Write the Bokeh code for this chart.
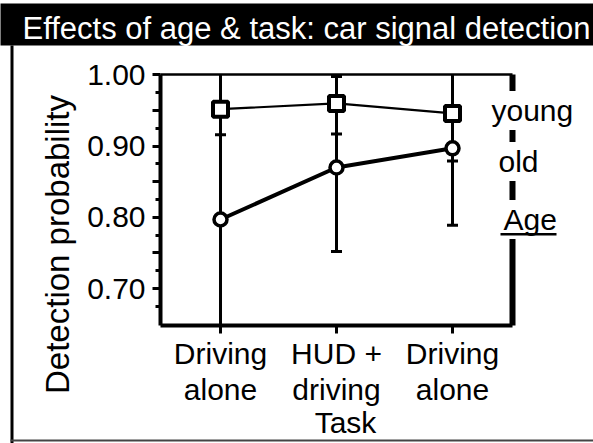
from math import pi
from bokeh.plotting import figure
from bokeh.models import Range1d, FixedTicker, LinearAxis, Label, BoxAnnotation
from bokeh.embed import file_html
from bokeh.resources import INLINE

# ---------------- data ----------------
title_text = "Effects of age & task: car signal detection"
y_label = "Detection probability"
x_label = "Task"
task_pos = [1, 2, 3]
task_labels = ["Driving\nalone", "HUD +\ndriving", "Driving\nalone"]
y_ticks = [0.70, 0.75, 0.80, 0.85, 0.90, 0.95, 1.00]
y_tick_labels = ["0.70", "", "0.80", "", "0.90", "", "1.00"]
y_minor = [0.675, 0.725, 0.775, 0.825, 0.875, 0.925, 0.975]

young = [0.952, 0.960, 0.946]
young_lower = [0.916, 0.917, 0.879]
young_upper = [1.00, 0.998, 1.00]

old = [0.797, 0.870, 0.897]
old_lower = [0.648, 0.752, 0.789]
old_upper = [0.957, 0.988, 1.00]

legend_labels = ["young", "old"]
legend_title = "Age"

# plotted region (axis extents) and full-canvas ranges
x_lo, x_hi = 0.483, 3.517
y_lo, y_hi = 0.648, 1.0

FONT = "Liberation Sans"
W, H = 593, 443

p = figure(width=W, height=H, output_backend="svg", toolbar_location=None,
           x_range=Range1d(-0.8966, 4.2155), y_range=Range1d(0.4824, 1.1046),
           x_axis_location=None, y_axis_location=None,
           min_border=0, min_border_left=0, min_border_right=0,
           min_border_top=0, min_border_bottom=0)
p.outline_line_color = None
p.grid.visible = False
p.background_fill_color = "white"
p.border_fill_color = "white"


def blank_axis(loc, bounds, width):
    return LinearAxis(fixed_location=loc, bounds=bounds, ticker=FixedTicker(ticks=[]),
                      axis_line_width=width, axis_line_color="black",
                      major_tick_line_color=None, minor_tick_line_color=None,
                      major_label_text_font_size="0px")


# left axis
ya = LinearAxis(fixed_location=x_lo, bounds=(y_lo, y_hi),
                ticker=FixedTicker(ticks=y_ticks, minor_ticks=y_minor))
ya.major_label_overrides = dict(zip(y_ticks, y_tick_labels))
ya.axis_line_width = 4
ya.major_tick_line_width = 3
ya.major_tick_out = 8
ya.major_tick_in = 0
ya.minor_tick_line_width = 3
ya.minor_tick_out = 5
ya.minor_tick_in = 0
ya.major_label_text_font = FONT
ya.major_label_text_font_size = "30px"
ya.major_label_text_color = "black"
ya.major_label_standoff = 7
p.add_layout(ya, "left")

# bottom axis
xa = LinearAxis(fixed_location=y_lo, bounds=(x_lo, x_hi), ticker=FixedTicker(ticks=task_pos))
xa.major_label_overrides = dict(zip(task_pos, task_labels))
xa.axis_line_width = 4
xa.major_tick_line_width = 3
xa.major_tick_out = 8
xa.major_tick_in = 0
xa.minor_tick_line_color = None
xa.major_label_text_font = FONT
xa.major_label_text_font_size = "30px"
xa.major_label_text_color = "black"
xa.major_label_text_line_height = 1.1
xa.major_label_standoff = 3
p.add_layout(xa, "below")

# top and right frame lines
p.add_layout(blank_axis(y_hi, (x_lo, x_hi), 2.5), "above")
p.add_layout(blank_axis(x_hi, (y_lo, y_hi), 6), "right")

# error bars
p.segment(x0=task_pos, y0=young_lower, x1=task_pos, y1=young_upper, line_color="black", line_width=3)
p.segment(x0=task_pos, y0=old_lower, x1=task_pos, y1=old_upper, line_color="black", line_width=3)


def inside(xs, ys):
    pts = [(a, b) for a, b in zip(xs, ys) if y_lo < b < y_hi]
    return [a for a, _ in pts], [b for _, b in pts]


for ends in (young_lower, young_upper, old_lower):
    cx, cy = inside(task_pos, ends)
    p.scatter(x=cx, y=cy, marker="dash", size=11, line_width=3, line_color="black")

# series lines and markers
p.line(x=task_pos, y=young, line_color="black", line_width=2.2)
p.line(x=task_pos, y=old, line_color="black", line_width=4)
p.scatter(x=task_pos, y=young, marker="square", size=15, line_width=4,
          line_color="black", fill_color="white")
p.scatter(x=task_pos, y=old, marker="circle", size=13, line_width=3.5,
          line_color="black", fill_color="white")

S = "screen"


def box(l, r, t, b, color="black"):
    return BoxAnnotation(left=l, right=r, top=t, bottom=b,
                         left_units=S, right_units=S, top_units=S, bottom_units=S,
                         fill_color=color, fill_alpha=1.0, line_color=None)


def label(x, y, text, size, align="left", angle=0.0, color="black", bg=None):
    kw = dict(background_fill_color=bg, padding=3) if bg else {}
    return Label(x=x, y=y, x_units=S, y_units=S, text=text, angle=angle,
                 text_font=FONT, text_font_size=size, text_color=color,
                 text_align=align, text_baseline="alphabetic", **kw)


# title band, panel border
p.add_layout(box(-5, W + 5, 440, 398))
p.add_layout(box(10, 13, 398, -5))
p.add_layout(box(10, W + 5, 4, 2, color="#444444"))
p.add_layout(label(22, 415, title_text, "31px", color="white"))

# axis titles
p.add_layout(label(57, 199, y_label, "33px", align="center", angle=pi / 2))
p.add_layout(label(345, 21, x_label, "30px", align="center"))

# legend texts (white boxes break the right frame line)
p.add_layout(label(488, 333, legend_labels[0], "30px", bg="white"))
p.add_layout(label(495, 282, legend_labels[1], "30px", bg="white"))
p.add_layout(label(500, 224, legend_title, "30px", bg="white"))
p.add_layout(box(500, 556, 210.5, 208))

open("out.html", "w").write(file_html(p, INLINE))
